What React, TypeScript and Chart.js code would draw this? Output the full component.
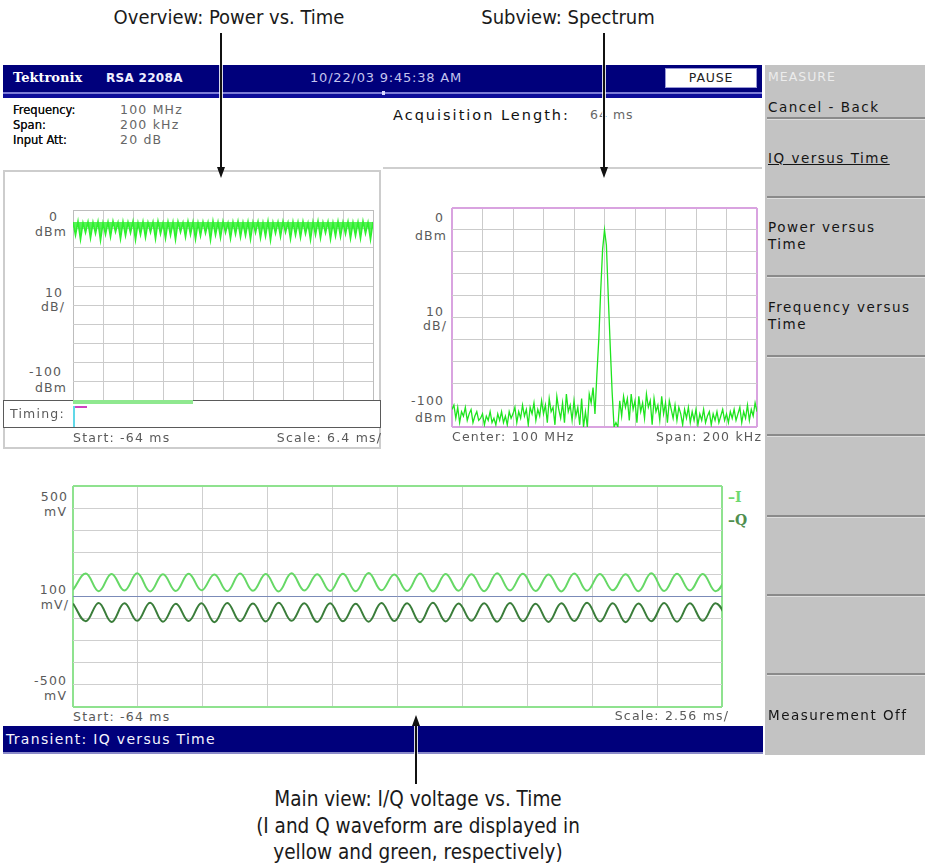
import React, { useEffect, useRef } from "react";
import { Chart, registerables } from "chart.js";

Chart.register(...registerables);

// ---------------- DATA ----------------
// Overview: power vs. time (dBm), acquisition samples
const powerTimeDbm = [
  -6.4, -13.2, -6.1, -15.5, -6.8, -11.9, -6.3, -14.8, -6.6, -12.4,
  -6.2, -15.9, -6.9, -12.8, -6.4, -14.1, -6.0, -11.6, -6.7, -15.2,
  -6.3, -13.5, -6.5, -12.1, -6.1, -15.7, -6.8, -13.0, -6.2, -14.4,
  -6.6, -11.8, -6.4, -15.1, -6.0, -12.6, -6.9, -14.9, -6.3, -13.3,
  -6.5, -15.6, -6.2, -11.7, -6.7, -14.2, -6.1, -12.9, -6.4, -15.3,
  -6.8, -13.6, -6.3, -12.2, -6.6, -15.8, -6.0, -13.1, -6.5, -14.6,
  -6.2, -11.9, -6.9, -15.0, -6.4, -12.7, -6.1, -14.3, -6.7, -13.4,
  -6.3, -15.4, -6.5, -12.0, -6.2, -14.7, -6.8, -13.8, -6.0, -15.9,
  -6.6, -12.3, -6.4, -14.0, -6.1, -11.8, -6.7, -15.2, -6.3, -13.2,
  -6.5, -14.5, -6.2, -12.5, -6.9, -15.6, -6.4, -13.0, -6.0, -14.8,
  -6.6, -12.1, -6.3, -15.3, -6.8, -13.7, -6.1, -14.1, -6.5, -12.6,
  -6.2, -15.0, -6.7, -13.5, -6.4, -14.9, -6.0, -12.4, -6.6, -15.5,
  -6.3,
];
const powerBandTopDbm = -6.3;

// Subview: spectrum (dBm), 200 kHz span around 100 MHz
const spectrumDbm = [
  -92, -90, -96, -91, -98, -93, -95, -91, -97, -94, -92, -98, -95, -93, -97, -96,
  -94, -99, -95, -97, -93, -98, -96, -99, -94, -97, -93, -98, -95, -99, -93, -96,
  -94, -91, -98, -93, -96, -90, -95, -92, -99, -91, -94, -89, -97, -92, -95, -88,
  -94, -90, -98, -87, -93, -91, -99, -86, -92, -96, -89, -98, -85, -93, -90, -97,
  -88, -95, -91, -99, -87, -100, -93, -100, -85, -89, -82, -94, -76, -60, -38, -19,
  -10, -17, -41, -63, -84, -100, -98, -100, -88, -95, -86, -91, -87, -97, -85, -92,
  -88, -98, -86, -93, -89, -96, -85, -91, -88, -99, -87, -93, -90, -97, -86, -94,
  -89, -98, -88, -92, -96, -90, -97, -91, -94, -99, -92, -96, -91, -98, -93, -97,
  -92, -99, -94, -97, -92, -98, -95, -93, -99, -94, -97, -93, -98, -95, -92, -97,
  -94, -98, -93, -96, -92, -97, -94, -91, -98, -93, -96, -90, -97, -92, -95, -89,
  -93,
];

// Main view: I and Q voltage (mV) at successive half-cycle extremes
const iTraceMv = [
  30, 104, 24, 102, 27, 105, 23, 101, 25, 103, 28, 100, 24, 104, 26, 102,
  23, 105, 27, 101, 25, 103, 24, 106, 28, 100, 25, 104, 23, 102, 26, 101,
  24, 105, 27, 103, 25, 100, 23, 104, 26, 102, 28, 101, 24, 105, 25, 103,
  27, 102, 24, 104,
];
const qTraceMv = [
  -32, -112, -29, -115, -31, -110, -28, -114, -33, -111, -30, -116, -29, -112, -32, -113,
  -28, -110, -31, -115, -30, -112, -33, -114, -29, -111, -31, -116, -28, -113, -32, -110,
  -30, -114, -29, -112, -33, -115, -31, -111, -28, -113, -30, -116, -32, -112, -29, -114,
  -31, -110, -30, -113,
];

// Axis labels
const powerAxisLabels = ["0", "dBm", "10", "dB/", "-100", "dBm"];
const spectrumAxisLabels = ["0", "dBm", "10", "dB/", "-100", "dBm"];
const iqAxisLabels = ["500", "mV", "100", "mV/", "-500", "mV"];
const powerFooter = ["Start: -64 ms", "Scale: 6.4 ms/"];
const spectrumFooter = ["Center: 100 MHz", "Span: 200 kHz"];
const iqFooter = ["Start: -64 ms", "Scale: 2.56 ms/"];
const iqLegend = ["I", "Q"];

const infoLabels = ["Frequency:", "Span:", "Input Att:"];
const infoValues = ["100 MHz", "200 kHz", "20 dB"];
const menuTitle = "MEASURE";
const menuItems = ["Cancel - Back", "IQ versus Time", "Power versus\nTime", "Frequency versus\nTime", "", "", "", "Measurement Off"];

const annotations = [
  "Overview: Power vs. Time",
  "Subview: Spectrum",
  "Main view: I/Q voltage vs. Time\n(I and Q waveform are displayed in\nyellow and green, respectively)",
];

// ---------------- HELPERS ----------------
const SANS = "'DejaVu Sans', Verdana, sans-serif";
const NARROW = "'Liberation Sans Narrow', 'Arial Narrow', 'DejaVu Sans Condensed', sans-serif";
const W = 925;

type TProps = {
  x: number;
  y: number;
  text: string;
  size?: number;
  color?: string;
  align?: "left" | "right" | "center";
  font?: string;
  weight?: number;
  ls?: number;
  lh?: number;
  underline?: boolean;
  style?: React.CSSProperties;
};

function T({ x, y, text, size = 12, color = "#222", align = "left", font = SANS, weight = 400, ls = 0, lh, underline, style }: TProps) {
  const lineH = lh ?? Math.round(size * 1.25);
  const n = text.split("\n").length;
  const st: React.CSSProperties = {
    position: "absolute",
    top: y - (n * lineH) / 2,
    fontSize: size,
    lineHeight: lineH + "px",
    color,
    fontFamily: font,
    fontWeight: weight,
    letterSpacing: ls,
    whiteSpace: "pre",
    textDecoration: underline ? "underline" : undefined,
    textAlign: align,
  };
  if (align === "left") st.left = x;
  else if (align === "right") st.right = W - x - ls;
  else {
    st.left = x;
    st.transform = "translateX(-50%)";
  }
  return <div style={{ ...st, ...style }}>{text}</div>;
}

function Box({ l, t, w, h, bg, style }: { l: number; t: number; w: number; h: number; bg?: string; style?: React.CSSProperties }) {
  return <div style={{ position: "absolute", left: l, top: t, width: w, height: h, background: bg, boxSizing: "border-box", ...style }} />;
}

function Arrow({ x, top, bottom, dir }: { x: number; top: number; bottom: number; dir: "down" | "up" }) {
  const head = 11;
  const lineTop = dir === "up" ? top + head : top;
  const lineBottom = dir === "down" ? bottom - head : bottom;
  return (
    <>
      <div style={{ position: "absolute", left: x - 1, top: lineTop, width: 2, height: lineBottom - lineTop, background: "#111", boxShadow: "0 0 0 1px rgba(255,255,255,0.85)" }} />
      <div
        style={{
          position: "absolute",
          left: x - 4.5,
          top: dir === "down" ? bottom - head : top,
          width: 0,
          height: 0,
          borderLeft: "4.5px solid transparent",
          borderRight: "4.5px solid transparent",
          borderTop: dir === "down" ? `${head}px solid #111` : undefined,
          borderBottom: dir === "up" ? `${head}px solid #111` : undefined,
        }}
      />
    </>
  );
}

type ScopeProps = {
  left: number;
  top: number;
  width: number;
  height: number;
  datasets: any[];
  xMax: number;
  yMin: number;
  yMax: number;
  yStep: number;
  grid: string;
  edge: string;
  edgeWidth: number;
  center?: string;
};

function ScopeChart(p: ScopeProps) {
  const ref = useRef<HTMLCanvasElement>(null);
  useEffect(() => {
    const colorFn = (ctx: any) => {
      const n = ctx.scale.ticks.length;
      if (ctx.index === 0 || ctx.index === n - 1) return p.edge;
      if (p.center && ctx.scale.axis === "y" && ctx.tick && ctx.tick.value === 0) return p.center;
      return p.grid;
    };
    const widthFn = (ctx: any) => {
      const n = ctx.scale.ticks.length;
      return ctx.index === 0 || ctx.index === n - 1 ? p.edgeWidth : 1;
    };
    const chart = new Chart(ref.current as HTMLCanvasElement, {
      type: "line",
      data: { datasets: p.datasets },
      options: {
        animation: false,
        responsive: false,
        devicePixelRatio: 1,
        layout: { padding: 2 },
        events: [],
        plugins: { legend: { display: false }, tooltip: { enabled: false } },
        elements: { point: { radius: 0 } },
        scales: {
          x: {
            type: "linear",
            min: 0,
            max: p.xMax,
            ticks: { display: false, stepSize: p.xMax / 10 },
            grid: { drawTicks: false, color: colorFn, lineWidth: widthFn },
            border: { display: false },
          },
          y: {
            type: "linear",
            min: p.yMin,
            max: p.yMax,
            ticks: { display: false, stepSize: p.yStep },
            grid: { drawTicks: false, color: colorFn, lineWidth: widthFn },
            border: { display: false },
          },
        },
      } as any,
    });
    return () => chart.destroy();
  }, []);
  return (
    <canvas
      ref={ref}
      width={p.width + 4}
      height={p.height + 4}
      style={{ position: "absolute", left: p.left - 2, top: p.top - 2, width: p.width + 4, height: p.height + 4 }}
    />
  );
}

const toXY = (vals: number[]) => vals.map((y, i) => ({ x: i, y }));

// ---------------- APP ----------------
export default function App() {
  const NAVY = "#00007b";
  const LBL = "#5a5a5a";
  const FS = 12.5;
  const LS = 1.2;

  const powerSets = [
    {
      data: toXY(powerTimeDbm),
      borderColor: "#2ef02e",
      backgroundColor: "rgba(60,240,60,0.85)",
      fill: { value: powerBandTopDbm },
      borderWidth: 1.6,
      tension: 0,
    },
  ];
  const spectrumSets = [
    { data: toXY(spectrumDbm), borderColor: "#1ee41e", borderWidth: 1.3, tension: 0 },
  ];
  const iqSets = [
    { data: toXY(iTraceMv), borderColor: "#66d866", borderWidth: 2, tension: 0.4 },
    { data: toXY(qTraceMv), borderColor: "#3a7d3a", borderWidth: 2, tension: 0.4 },
  ];

  const menuSeparators = [117, 196, 275, 355, 434, 515, 594, 673];
  const menuTextY = [107, 158, 236, 316, 0, 0, 0, 715];

  return (
    <div style={{ position: "absolute", left: 0, top: 0, width: W, height: 867, overflow: "hidden", background: "#fff" }}>
      {/* ---------- annotations ---------- */}
      <T x={229} y={17} text={annotations[0]} size={20} font={NARROW} color="#1a1a1a" align="center" />
      <T x={568} y={17} text={annotations[1]} size={20} font={NARROW} color="#1a1a1a" align="center" />
      <T x={418} y={826} text={annotations[2]} size={20.5} lh={26.5} font={NARROW} color="#1a1a1a" align="center" />

      {/* ---------- header ---------- */}
      <Box l={3} t={65} w={759} h={27} bg={NAVY} />
      <Box l={3} t={92} w={759} h={2} bg="#7c7cd8" />
      <Box l={3} t={94} w={759} h={4} bg="#0c0c9a" />
      <Box l={382} t={91} w={3} h={4} bg="#d8d8ff" />
      <T x={13} y={78} text="Tektronix" size={13} weight={700} color="#fff" font="'DejaVu Serif', serif" />
      <T x={106} y={78} text="RSA 2208A" size={12} weight={700} color="#eef" ls={0.3} />
      <T x={310} y={78} text="10/22/03 9:45:38 AM" size={13} color="#c4c4ee" ls={0.8} />
      <Box l={665} t={68} w={92} h={20} bg="#fff" style={{ border: "1px solid #9a9ad6" }} />
      <T x={711} y={78} text="PAUSE" size={12.5} color="#222" align="center" ls={0.8} />

      {/* ---------- info block ---------- */}
      {infoLabels.map((s, i) => (
        <T key={"il" + i} x={13} y={110 + i * 15} text={s} size={11.5} color="#111" style={{ textShadow: "0 0 0.4px #111" }} />
      ))}
      {infoValues.map((s, i) => (
        <T key={"iv" + i} x={120} y={110 + i * 15} text={s} size={12.5} color="#666" ls={1.2} />
      ))}
      <T x={393} y={115} text="Acquisition Length:" size={14.5} color="#111" ls={2} />
      <T x={590} y={115} text="64 ms" size={12.5} color="#666" ls={1} />

      {/* separator */}
      <Box l={383} t={167} w={379} h={2} bg="#cfcfcf" />

      {/* ---------- overview panel ---------- */}
      <Box l={3} t={170} w={378} h={279} style={{ border: "2px solid #cdcdcd" }} />
      <ScopeChart left={73} top={210} width={300} height={190} datasets={powerSets} xMax={powerTimeDbm.length - 1} yMin={-100} yMax={0} yStep={10} grid="#cbcbcb" edge="#bdbdbd" edgeWidth={1} />
      <T x={57} y={217} text={powerAxisLabels[0]} size={FS} color={LBL} align="right" ls={LS} />
      <T x={66} y={232} text={powerAxisLabels[1]} size={FS} color={LBL} align="right" ls={LS} />
      <T x={62} y={293} text={powerAxisLabels[2]} size={FS} color={LBL} align="right" ls={LS} />
      <T x={64} y={307} text={powerAxisLabels[3]} size={FS} color={LBL} align="right" ls={LS} />
      <T x={61} y={372} text={powerAxisLabels[4]} size={FS} color={LBL} align="right" ls={LS} />
      <T x={66} y={388} text={powerAxisLabels[5]} size={FS} color={LBL} align="right" ls={LS} />
      {/* timing strip */}
      <Box l={3} t={400} w={378} h={28} bg="#fff" style={{ border: "1.5px solid #5a5a5a" }} />
      <Box l={73} t={400} w={120} h={3.5} bg="#8fe88f" />
      <Box l={74} t={406} w={13} h={2} bg="#d040c0" />
      <Box l={73} t={406} w={2} h={21} bg="#60d8e8" />
      <T x={10} y={414} text="Timing:" size={FS} color={LBL} ls={LS} />
      <T x={73} y={438} text={powerFooter[0]} size={FS} color={LBL} ls={LS} />
      <T x={381} y={438} text={powerFooter[1]} size={FS} color={LBL} align="right" ls={LS} />

      {/* ---------- subview panel ---------- */}
      <ScopeChart left={452} top={208} width={305} height={219} datasets={spectrumSets} xMax={spectrumDbm.length - 1} yMin={-100} yMax={0} yStep={10} grid="#cbcbcb" edge="#d9a3e0" edgeWidth={2} />
      <T x={443} y={218} text={spectrumAxisLabels[0]} size={FS} color={LBL} align="right" ls={LS} />
      <T x={446} y={236} text={spectrumAxisLabels[1]} size={FS} color={LBL} align="right" ls={LS} />
      <T x={443} y={312} text={spectrumAxisLabels[2]} size={FS} color={LBL} align="right" ls={LS} />
      <T x={446} y={326} text={spectrumAxisLabels[3]} size={FS} color={LBL} align="right" ls={LS} />
      <T x={443} y={401} text={spectrumAxisLabels[4]} size={FS} color={LBL} align="right" ls={LS} />
      <T x={446} y={418} text={spectrumAxisLabels[5]} size={FS} color={LBL} align="right" ls={LS} />
      <T x={452} y={437} text={spectrumFooter[0]} size={FS} color={LBL} ls={LS} />
      <T x={761} y={437} text={spectrumFooter[1]} size={FS} color={LBL} align="right" ls={LS} />

      {/* ---------- main view ---------- */}
      <ScopeChart left={73} top={486} width={649} height={221} datasets={iqSets} xMax={50.5} yMin={-500} yMax={500} yStep={100} grid="#cfcfcf" edge="#8fe28f" edgeWidth={2} center="#7b8bb8" />
      <T x={67} y={497} text={iqAxisLabels[0]} size={FS} color={LBL} align="right" ls={LS} />
      <T x={66} y={512} text={iqAxisLabels[1]} size={FS} color={LBL} align="right" ls={LS} />
      <T x={66} y={590} text={iqAxisLabels[2]} size={FS} color={LBL} align="right" ls={LS} />
      <T x={68} y={605} text={iqAxisLabels[3]} size={FS} color={LBL} align="right" ls={LS} />
      <T x={66} y={681} text={iqAxisLabels[4]} size={FS} color={LBL} align="right" ls={LS} />
      <T x={66} y={696} text={iqAxisLabels[5]} size={FS} color={LBL} align="right" ls={LS} />
      <T x={73} y={717} text={iqFooter[0]} size={FS} color={LBL} ls={LS} />
      <T x={728} y={716} text={iqFooter[1]} size={FS} color={LBL} align="right" ls={LS} />
      <T x={728} y={497} text={"\u2013" + iqLegend[0]} size={14} weight={700} color="#6fd86f" font="'DejaVu Serif', serif" />
      <T x={728} y={520} text={"\u2013" + iqLegend[1]} size={14} weight={700} color="#4f8f4f" font="'DejaVu Serif', serif" />

      {/* ---------- bottom status bar ---------- */}
      <Box l={3} t={726} w={760} h={26} bg={NAVY} />
      <Box l={3} t={752} w={760} h={2} bg="#8a8ac8" />
      <T x={6} y={739} text="Transient: IQ versus Time" size={14} color="#f4f4ff" ls={1.3} />

      {/* ---------- right menu ---------- */}
      <Box l={765} t={65} w={160} h={690} bg="#c3c3c3" />
      {menuSeparators.map((y, i) => (
        <React.Fragment key={"sep" + i}>
          <Box l={767} t={y} w={158} h={1.5} bg="#8a8a8a" />
          <Box l={767} t={y + 1.5} w={158} h={1} bg="#dedede" />
        </React.Fragment>
      ))}
      <T x={768} y={77} text={menuTitle} size={12.5} color="#ececec" ls={1} />
      {menuItems.map((s, i) =>
        s ? (
          <T
            key={"mi" + i}
            x={768}
            y={menuTextY[i]}
            text={s}
            size={13.5}
            lh={17}
            color="#151515"
            ls={1.5}
            underline={i === 1}
          />
        ) : null
      )}

      {/* ---------- arrows ---------- */}
      <Arrow x={221} top={33} bottom={178} dir="down" />
      <Arrow x={604} top={33} bottom={178} dir="down" />
      <Arrow x={416} top={715} bottom={784} dir="up" />
    </div>
  );
}
